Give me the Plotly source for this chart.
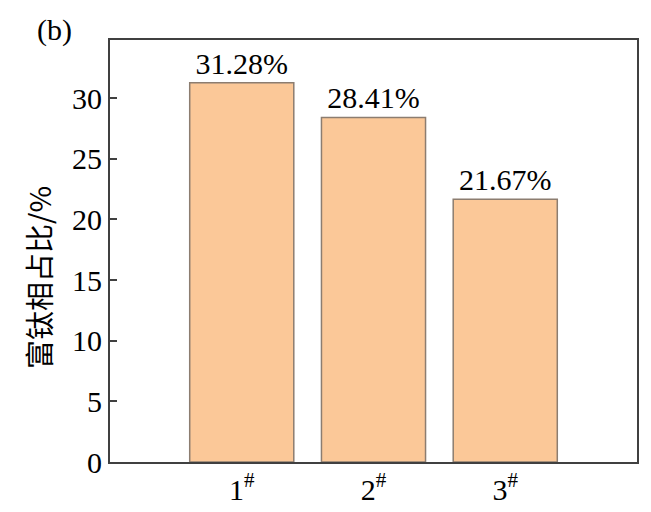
import plotly.graph_objects as go

categories = ["1<sup>#</sup>", "2<sup>#</sup>", "3<sup>#</sup>"]
positions = [1, 2, 3]
values = [31.28, 28.41, 21.67]
labels = ["31.28%", "28.41%", "21.67%"]
y_ticks = [0, 5, 10, 15, 20, 25, 30]

serif = "Liberation Serif"
axis_color = "#404040"

fig = go.Figure()
fig.add_trace(go.Bar(
    x=positions, y=values, width=0.79,
    marker=dict(color="#FBC898", line=dict(color="#8C7D70", width=1.5)),
    text=labels, textposition="outside", cliponaxis=False,
    textfont=dict(family=serif, size=30, color="black"),
))

fig.update_layout(
    width=643, height=504,
    margin=dict(l=102, r=14, t=32, b=50, autoexpand=False),
    paper_bgcolor="white", plot_bgcolor="white",
    showlegend=False,
    font=dict(family=serif, color="black"),
    annotations=[
        dict(text="(b)", x=-0.142, y=1.024, xref="paper", yref="paper",
             xanchor="left", yanchor="middle", showarrow=False,
             font=dict(family=serif, size=30)),
        dict(text="富钛相占比/%", x=-0.137, y=0.438, xref="paper", yref="paper",
             xanchor="center", yanchor="middle", textangle=-90, showarrow=False,
             font=dict(family="Noto Sans CJK SC", size=29)),
    ],
)

fig.update_xaxes(
    range=[0, 4], tickvals=positions, ticktext=categories,
    showline=True, mirror=True, linecolor=axis_color, linewidth=2,
    ticks="", showgrid=False, zeroline=False, automargin=False,
    tickfont=dict(family=serif, size=30),
)
fig.update_yaxes(
    range=[0, 34.8], tickvals=y_ticks,
    showline=True, mirror=True, linecolor=axis_color, linewidth=2,
    ticks="inside", ticklen=7, tickwidth=2, tickcolor=axis_color,
    showgrid=False, zeroline=False, automargin=False,
    tickfont=dict(family=serif, size=30),
)

fig.write_html("out.html")
